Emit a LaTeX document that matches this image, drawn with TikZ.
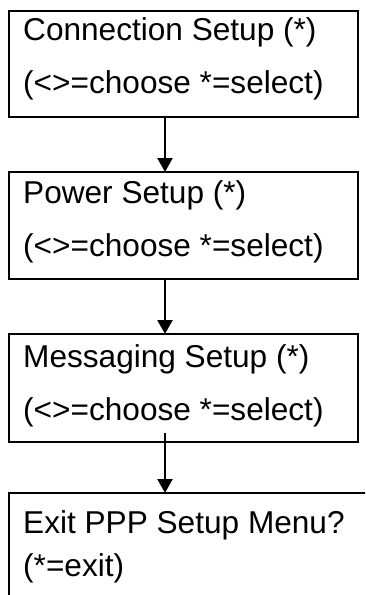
\documentclass[tikz,border=0pt]{standalone}
\usepackage{fontspec}
\setmainfont{Liberation Sans}
\usetikzlibrary{arrows.meta}
\begin{document}
\begin{tikzpicture}[x=1pt,y=-1pt,
  boxshape/.style={draw=black,line width=2pt,anchor=north west,inner sep=0pt},
  txt/.style={anchor=base west,inner sep=0pt,font=\fontsize{31.6}{31.6}\selectfont},
  conn/.style={line width=2.2pt,-{Triangle[length=14pt,width=15pt]}}]
\useasboundingbox (0,0) rectangle (365,595);
\clip (0,0) rectangle (365,595);
\node[boxshape,minimum width=349pt,minimum height=106pt] (b1) at (8,10) {};
\node[boxshape,minimum width=349pt,minimum height=107pt] (b2) at (8,171) {};
\node[boxshape,minimum width=349pt,minimum height=108pt] (b3) at (8,333) {};
\node[boxshape,minimum width=380pt,minimum height=130pt] (b4) at (8,492) {};
\node[txt] (t1a) at (23,40) {Connection Setup (*)};
\node[txt] (t1b) at (23,93) {(<>=choose *=select)};
\node[txt] (t2a) at (23,203) {Power Setup (*)};
\node[txt] (t2b) at (23,256) {(<>=choose *=select)};
\node[txt] (t3a) at (23,367) {Messaging Setup (*)};
\node[txt] (t3b) at (23,420) {(<>=choose *=select)};
\node[txt] (t4a) at (23,533) {Exit PPP Setup Menu?};
\node[txt] (t4b) at (23,576) {(*=exit)};
\coordinate (a1s) at (165,116);
\coordinate (a1e) at (165,172);
\coordinate (a2s) at (165,278);
\coordinate (a2e) at (165,334);
\coordinate (a3s) at (165,433);
\coordinate (a3e) at (165,493);
\draw[conn] (a1s) -- (a1e);
\draw[conn] (a2s) -- (a2e);
\draw[conn] (a3s) -- (a3e);
\end{tikzpicture}
\end{document}
